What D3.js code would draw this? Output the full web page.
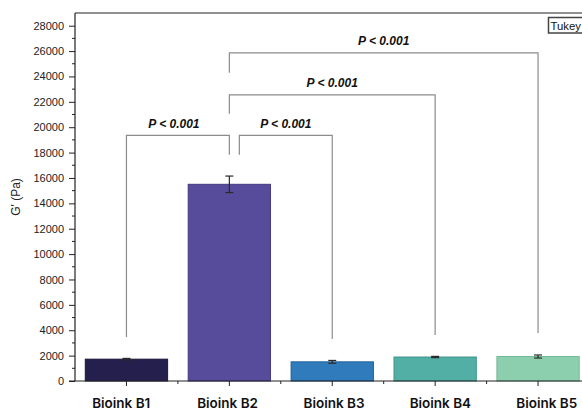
<!DOCTYPE html>
<html>
<head>
<meta charset="utf-8">
<script src="https://cdn.jsdelivr.net/npm/d3@7/dist/d3.min.js"></script>
<style>
  html, body { margin: 0; padding: 0; background: #ffffff; }
  svg { display: block; }
</style>
</head>
<body>
<svg id="chart" width="582" height="411"></svg>
<script>
// Storage modulus of the five bioinks (mean ± SD)
const categories = ["Bioink B1", "Bioink B2", "Bioink B3", "Bioink B4", "Bioink B5"];
const gPrime = [1720, 15500, 1510, 1890, 1930];
const gPrimeSD = [60, 650, 110, 50, 120];
const barColors = ["#241f4c", "#574b9b", "#2f7bbb", "#52afa6", "#8ccfae"];
const barStrokes = ["#1a1638", "#463b85", "#22609a", "#3f958c", "#78b89a"];

const yTicks = [0, 2000, 4000, 6000, 8000, 10000, 12000, 14000, 16000, 18000, 20000, 22000, 24000, 26000, 28000];

// Tukey pairwise comparisons: from / to bar, bracket level, and where each leg stops (Pa)
const pairFrom = [0, 1, 1, 1];
const pairTo = [1, 2, 3, 4];
const pairLevel = [19350, 19350, 22550, 25850];
const legFromEnd = [3470, 17830, 21060, 24290];
const legToEnd = [17830, 3310, 3630, 3790];
const pairLabels = ["P < 0.001", "P < 0.001", "P < 0.001", "P < 0.001"];

const svg = d3.select("#chart");

const plotLeft = 75, plotRight = 589.5, plotTop = 13, plotBottom = 381;

const x = d3.scaleBand()
  .domain(categories)
  .range([plotLeft, plotRight])
  .paddingInner(0.2)
  .paddingOuter(0.1);

const y = d3.scaleLinear()
  .domain([0, 29000])
  .range([plotBottom, plotTop]);

const cx = c => x(c) + x.bandwidth() / 2;

// Frame top edge
svg.append("line")
  .attr("x1", plotLeft).attr("x2", plotRight)
  .attr("y1", plotTop).attr("y2", plotTop)
  .attr("stroke", "#222").attr("stroke-width", 1.2);

// Bars
svg.append("g").selectAll("rect")
  .data(categories)
  .join("rect")
  .attr("x", d => x(d))
  .attr("width", x.bandwidth())
  .attr("y", (d, i) => y(gPrime[i]))
  .attr("height", (d, i) => y(0) - y(gPrime[i]))
  .attr("fill", (d, i) => barColors[i])
  .attr("stroke", (d, i) => barStrokes[i])
  .attr("stroke-width", 1);

// Error bars
const err = svg.append("g").attr("stroke", "#2a2a2a").attr("stroke-width", 1.2).attr("fill", "none");
categories.forEach((c, i) => {
  const hi = y(gPrime[i] + gPrimeSD[i]), lo = y(gPrime[i] - gPrimeSD[i]);
  const px = cx(c);
  err.append("line").attr("x1", px).attr("x2", px).attr("y1", hi).attr("y2", lo);
  err.append("line").attr("x1", px - 4).attr("x2", px + 4).attr("y1", hi).attr("y2", hi);
  err.append("line").attr("x1", px - 4).attr("x2", px + 4).attr("y1", lo).attr("y2", lo);
});

// Y axis: major ticks with labels, minor ticks in between
const yAxis = svg.append("g")
  .attr("transform", `translate(${plotLeft},0)`)
  .call(d3.axisLeft(y).tickValues(yTicks).tickFormat(d3.format("d"))
    .tickSize(6).tickSizeOuter(0).tickPadding(5));
yAxis.select(".domain").attr("stroke", "#222").attr("stroke-width", 1.2)
  .attr("d", `M0,${plotTop}V${plotBottom}`);
yAxis.selectAll(".tick line").attr("stroke", "#222");
yAxis.selectAll("text")
  .attr("font-family", "'Liberation Sans', Arial, sans-serif")
  .attr("font-size", 11).attr("fill", "#222");

const yMinor = d3.range(1000, 29000, 2000);
svg.append("g").selectAll("line")
  .data(yMinor)
  .join("line")
  .attr("x1", plotLeft - 3).attr("x2", plotLeft)
  .attr("y1", d => y(d)).attr("y2", d => y(d))
  .attr("stroke", "#222");

// X axis
const xAxis = svg.append("g")
  .attr("transform", `translate(0,${plotBottom})`)
  .call(d3.axisBottom(x).tickSize(5).tickSizeOuter(0).tickFormat(""));
xAxis.select(".domain").attr("stroke", "#222").attr("stroke-width", 1.2)
  .attr("d", `M${plotLeft - 6},0H${plotRight}`);
xAxis.selectAll(".tick line").attr("stroke", "#222");

// Minor x ticks at the category boundaries
svg.append("g").selectAll("line")
  .data(categories.slice(0, -1))
  .join("line")
  .attr("x1", d => cx(d) + x.step() / 2).attr("x2", d => cx(d) + x.step() / 2)
  .attr("y1", plotBottom).attr("y2", plotBottom + 3)
  .attr("stroke", "#222");

// Category labels
svg.append("g").selectAll("text")
  .data(categories)
  .join("text")
  .attr("x", (d, i) => cx(d) + 3.5 * (i - 1.5))
  .attr("y", 408)
  .attr("text-anchor", "middle")
  .attr("font-family", "Inter, 'Liberation Sans', sans-serif")
  .attr("font-weight", 600)
  .attr("font-size", 13.5)
  .attr("fill", "#111")
  .text(d => d);

// Y axis title
svg.append("text")
  .attr("transform", `translate(20,${197}) rotate(-90)`)
  .attr("text-anchor", "middle")
  .attr("font-family", "'Liberation Sans', Arial, sans-serif")
  .attr("font-size", 12)
  .attr("fill", "#222")
  .text("G' (Pa)");

// Significance brackets
const br = svg.append("g").attr("stroke", "#8c8c8c").attr("stroke-width", 1.2).attr("fill", "none");
pairFrom.forEach((f, k) => {
  const t = pairTo[k];
  // the B2-B3 bracket starts just right of the B1-B2 one sharing its level
  const shift = (k === 1) ? 10 : 0;
  const x1 = cx(categories[f]) + shift, x2 = cx(categories[t]);
  const yl = y(pairLevel[k]);
  br.append("path")
    .attr("d", `M${x1},${y(legFromEnd[k])}V${yl}H${x2}V${y(legToEnd[k])}`);
  svg.append("text")
    .attr("x", (x1 + x2) / 2 - (k === 0 ? 4 : 0))
    .attr("y", yl - 7.5)
    .attr("text-anchor", "middle")
    .attr("font-family", "'Liberation Sans', Arial, sans-serif")
    .attr("font-weight", "bold")
    .attr("font-style", "italic")
    .attr("font-size", 12)
    .attr("fill", "#111")
    .text(pairLabels[k]);
});

// Test legend box
svg.append("rect")
  .attr("x", 548.5).attr("y", 17.5)
  .attr("width", 44).attr("height", 15.5)
  .attr("fill", "#fff").attr("stroke", "#444").attr("stroke-width", 1.5);
svg.append("text")
  .attr("x", 550.5).attr("y", 29.5)
  .attr("font-family", "'Liberation Sans', Arial, sans-serif")
  .attr("font-size", 11.3)
  .attr("fill", "#111")
  .text("Tukey");
</script>
</body>
</html>
